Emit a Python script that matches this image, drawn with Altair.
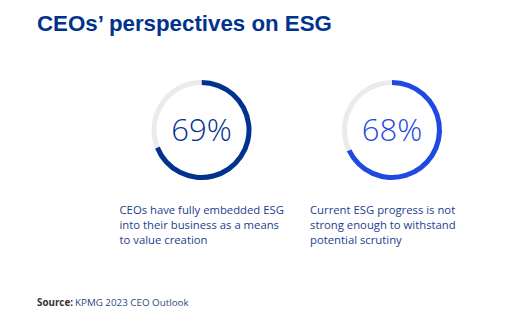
import math
import altair as alt
import pandas as pd

# ---- data ----
keys = ["embedded", "progress"]
values = [69, 68]
pct_labels = ["69%", "68%"]
captions = [
    ["CEOs have fully embedded ESG", "into their business as a means", "to value creation"],
    ["Current ESG progress is not", "strong enough to withstand", "potential scrutiny"],
]
title_text = "CEOs\u2019 perspectives on ESG"
source_label = "Source:"
source_text = "KPMG 2023 CEO Outlook"

NAVY = "#00338D"
BLUE = "#1E49E2"
GRAY = "#EBEBEB"
CAPTION = "#1E3D8F"

rows = []
for k, v in zip(keys, values):
    rows.append({"key": k, "seg": k, "start": 0, "end": v})
    rows.append({"key": k, "seg": "rest", "start": v, "end": 100})
seg_df = pd.DataFrame(rows)

txt_df = pd.DataFrame({"key": keys, "seg": keys, "pct": pct_labels})

cap_rows = []
for k, lines in zip(keys, captions):
    for i, line in enumerate(lines):
        cap_rows.append({"key": k, "line": i, "text": line})
cap_df = pd.DataFrame(cap_rows)

xenc = alt.X("key:N", scale=alt.Scale(type="point", domain=keys, range=[201.5, 392], padding=0), axis=None)
cenc = alt.Color("seg:N", scale=alt.Scale(domain=keys + ["rest"], range=[NAVY, BLUE, GRAY]), legend=None)

rings = alt.Chart(seg_df).mark_arc(radius=50, radius2=45).encode(
    x=xenc,
    y=alt.value(130),
    theta=alt.Theta("start:Q", scale=alt.Scale(domain=[0, 100], range=[0, 2 * math.pi])),
    theta2="end:Q",
    color=cenc,
)

pct = alt.Chart(txt_df).mark_text(
    font="Open Sans", fontSize=31, fontWeight=300, baseline="middle", align="center"
).encode(
    x=xenc,
    y=alt.value(132),
    text="pct:N",
    color=cenc,
)

caps = alt.Chart(cap_df).mark_text(
    font="Open Sans", fontSize=11.3, align="left", baseline="alphabetic",
    dx=-82, color=CAPTION,
).encode(
    x=xenc,
    y=alt.Y("line:Q", scale=alt.Scale(domain=[0, 2], range=[214, 244]), axis=None),
    text="text:N",
)

title = alt.Chart(pd.DataFrame({"t": [title_text]})).mark_text(
    font="Liberation Sans", fontSize=22.3, fontWeight="bold", align="left",
    baseline="alphabetic", color=NAVY,
).encode(x=alt.value(37), y=alt.value(31), text="t:N")

src1 = alt.Chart(pd.DataFrame({"t": [source_label]})).mark_text(
    font="Open Sans", fontSize=9.8, fontWeight="bold", align="left",
    baseline="alphabetic", color="#333333",
).encode(x=alt.value(37), y=alt.value(306), text="t:N")

src2 = alt.Chart(pd.DataFrame({"t": [source_text]})).mark_text(
    font="Open Sans", fontSize=9.8, align="left",
    baseline="alphabetic", color="#2B4A7A",
).encode(x=alt.value(75), y=alt.value(306), text="t:N")

chart = alt.layer(rings, pct, caps, title, src1, src2).properties(
    width=526, height=329, padding=0, autosize=alt.AutoSizeParams(type="none"),
    background="white",
).configure_view(stroke=None)

chart.save("out.html", embed_options={"renderer": "svg", "actions": False})
